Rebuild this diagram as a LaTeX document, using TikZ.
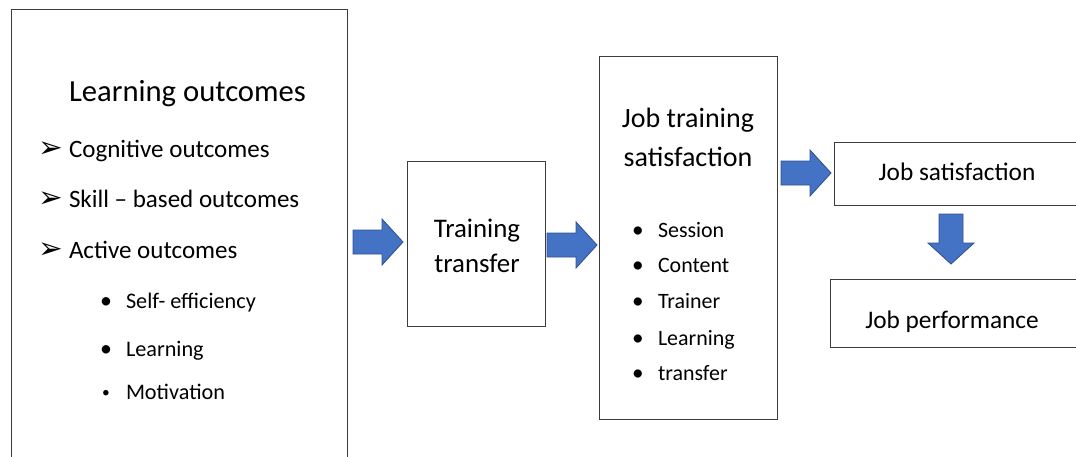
\documentclass[tikz,border=0pt]{standalone}
\usepackage{fontspec}
\setmainfont{Carlito}
\newfontfamily\dingfont{DejaVu Sans}
\definecolor{arrowfill}{RGB}{68,114,196}
\definecolor{arrowedge}{RGB}{47,82,143}
\definecolor{boxedge}{RGB}{60,60,60}
\tikzset{
  box/.style={
    draw=boxedge, line width=0.7pt,
    shape=rectangle, anchor=north west,
    outer sep=0, inner sep=0
  },
  txt/.style={anchor=base, inner sep=0, outer sep=0},
  item/.style={anchor=base west, inner sep=0, outer sep=0},
  % fat blue arrow, pointing right, centred on the pic origin
  blockarrow/.pic={
    \filldraw[fill=arrowfill, draw=arrowedge, line width=0.6pt]
      (-25,-12) -- (4,-12) -- (4,-23) -- (25,0)
      -- (4,23) -- (4,12) -- (-25,12) -- cycle;
  }
}

\begin{document}
\begin{tikzpicture}[x=0.025cm, y=-0.025cm]
  \useasboundingbox (0,0) rectangle (1076,456);
  \clip (0,0) rectangle (1076,456);

%%%boxes
  \node[box, minimum width=8.4cm, minimum height=11.6cm] (outcomes) at (11,9) {};
  \node[box, minimum width=3.45cm, minimum height=4.125cm] (transfer) at (407,161) {};
  \node[box, minimum width=4.45cm, minimum height=9.075cm] (jts) at (599,56) {};
  \node[box, minimum width=6.4cm, minimum height=1.575cm] (jobsat) at (834,142) {};
  \node[box, minimum width=6.5cm, minimum height=1.7cm] (jobperf) at (830,279) {};

%%%learning outcomes
  \node[item, font=\fontsize{21.8}{26}\selectfont] (lotitle) at (69,101) {Learning outcomes};
  \foreach \y/\t [count=\i] in {157/Cognitive outcomes,207/Skill -- based outcomes,258/Active outcomes} {
    \node[item, font=\fontsize{17.8}{22}\selectfont] (lo\i) at (69,\y) {\t};
    \node[anchor=base east, inner sep=0, font=\dingfont\fontsize{21}{24}\selectfont] (lomark\i) at (64,\y) {➢};
  }
  \foreach \y/\t [count=\i] in {308/Self- efficiency,356/Learning,399/Motivation} {
    \node[item, font=\fontsize{15.8}{19}\selectfont] (sub\i) at (126,\y) {\t};
  }
  \node[txt, font=\fontsize{17}{20}\selectfont] (subdot1) at (106,308) {•};
  \node[txt, font=\fontsize{17}{20}\selectfont] (subdot2) at (106,356) {•};
  \node[txt, font=\fontsize{11}{13}\selectfont] (subdot3) at (106,397) {•};

%%%training transfer
  \node[txt, font=\fontsize{19.1}{23}\selectfont] (tt1) at (477,237) {Training};
  \node[txt, font=\fontsize{19.1}{23}\selectfont] (tt2) at (477,272) {transfer};

%%%job training satisfaction
  \node[txt, font=\fontsize{19.9}{23}\selectfont] (jtstitle1) at (688,127) {Job training};
  \node[txt, font=\fontsize{19.9}{23}\selectfont] (jtstitle2) at (688,166) {satisfaction};
  \foreach \y/\t [count=\i] in {237/Session,272/Content,308/Trainer,345/Learning,380/transfer} {
    \node[item, font=\fontsize{15.6}{19}\selectfont] (jts\i) at (658,\y) {\t};
    \node[txt, font=\fontsize{16.5}{20}\selectfont] (jtsdot\i) at (638,\y) {•};
  }

%%%job satisfaction / performance
  \node[txt, font=\fontsize{18}{22}\selectfont] (jstext) at (957,180) {Job satisfaction};
  \node[txt, font=\fontsize{18}{22}\selectfont] (jptext) at (952,328) {Job performance};

%%%arrows
  \pic at (378,242) {blockarrow};
  \pic at (572,245) {blockarrow};
  \pic at (806,173) {blockarrow};
  \pic[rotate=-90] at (951,239) {blockarrow};

\end{tikzpicture}
\end{document}
